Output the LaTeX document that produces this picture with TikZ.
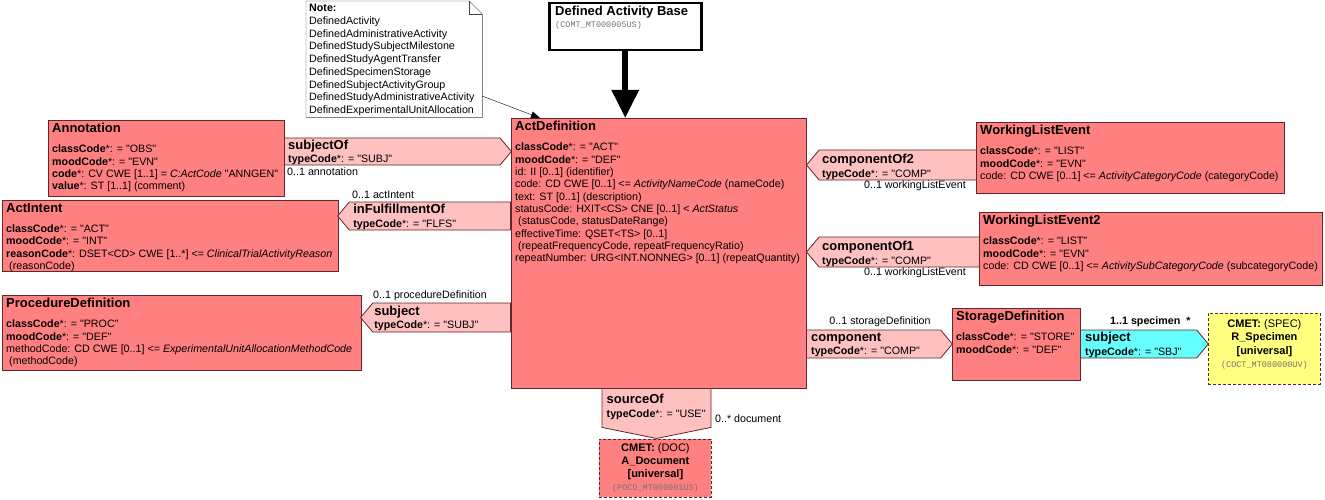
\documentclass[tikz,border=0pt]{standalone}
\usepackage{fontspec}
\setmainfont{Liberation Sans}[Ligatures=TeXOff]
\setmonofont{Liberation Mono}
\usetikzlibrary{positioning,shapes.symbols,arrows.meta}

\definecolor{clsred}{RGB}{255,128,128}
\definecolor{assocpink}{RGB}{255,192,192}
\definecolor{subjcyan}{RGB}{102,255,255}
\definecolor{cmetyellow}{RGB}{255,255,128}
\definecolor{edgebrown}{RGB}{96,40,40}

\newcommand{\clsname}[1]{{\fontsize{13}{15}\selectfont\bfseries #1}}
\newcommand{\idcode}[1]{{\fontsize{8.5}{11}\selectfont\ttfamily\color{black!55}#1}}

\begin{document}
\begin{tikzpicture}[
		x=1pt, y=-1pt,
		clsbox/.style={draw=edgebrown, fill=clsred, line width=0.8pt, anchor=north west, inner sep=0pt},
		cmetbox/.style={draw=edgebrown, line width=0.8pt, dash pattern=on 3pt off 2pt, anchor=north west, inner sep=0pt},
		clstext/.style={anchor=north west, align=left, inner xsep=4pt, inner ysep=3pt, font=\fontsize{10.7}{12.3}\selectfont},
		cmettext/.style={anchor=north, align=center, inner sep=0pt, font=\fontsize{11}{13.5}\selectfont},
		assoc/.style={signal, signal pointer angle=100, draw=edgebrown, fill=assocpink, line width=0.8pt, inner sep=0pt},
		assoctext/.style={anchor=west, align=left, inner sep=0pt, font=\fontsize{10.7}{12}\selectfont},
		multlabel/.style={inner sep=0pt, font=\fontsize{10.7}{12}\selectfont}
	]

	\useasboundingbox (0,0) rectangle (1325,500);

	\node[minimum width=176, minimum height=116, anchor=north west, inner sep=0pt] (note) at (306,1) {};
	\filldraw[fill=white, draw=black!75] (note.north west) -- ([xshift=-13pt]note.north east) -- ([yshift=-13pt]note.north east) -- (note.south east) -- (note.south west) -- cycle;
	\draw[black!75] ([xshift=-13pt]note.north east) -- ([xshift=-13pt,yshift=-13pt]note.north east) -- ([yshift=-13pt]note.north east);
	\node[clstext, font=\fontsize{10.7}{12.75}\selectfont, inner xsep=3pt, inner ysep=3pt] (note-t) at (note.north west) {\textbf{Note:}\\
		DefinedActivity\\
		DefinedAdministrativeActivity\\
		DefinedStudySubjectMilestone\\
		DefinedStudyAgentTransfer\\
		DefinedSpecimenStorage\\
		DefinedSubjectActivityGroup\\
		DefinedStudyAdministrativeActivity\\
		DefinedExperimentalUnitAllocation};

	\node[draw, line width=2.5pt, fill=white, anchor=north west, minimum width=152, minimum height=47, inner sep=0pt] (base) at (548,2) {};
	\node[clstext] (base-t) at ([xshift=3pt,yshift=-1pt]base.north west) {\clsname{Defined Activity Base}\\ \idcode{(COMT\_MT000005US)}};

	\node[clsbox, minimum width=295, minimum height=270] (act) at (511,118) {};
	\node[clstext] (act-t) at (act.north west) {\clsname{ActDefinition}\\[8pt]
		\textbf{classCode}*: = "ACT"\\
		\textbf{moodCode}*: = "DEF"\\
		id: II [0..1] (identifier)\\
		code: CD CWE [0..1] <= \textit{ActivityNameCode} (nameCode)\\
		text: ST [0..1] (description)\\
		statusCode: HXIT<CS> CNE [0..1] < \textit{ActStatus}\\
		\hspace*{3pt}(statusCode, statusDateRange)\\
		effectiveTime: QSET<TS> [0..1]\\
		\hspace*{3pt}(repeatFrequencyCode, repeatFrequencyRatio)\\
		repeatNumber: URG<INT.NONNEG> [0..1] (repeatQuantity)};

	\node[clsbox, minimum width=236, minimum height=76] (annot) at (48,120) {};
	\node[clstext] (annot-t) at (annot.north west) {\clsname{Annotation}\\[8pt]
		\textbf{classCode}*: = "OBS"\\
		\textbf{moodCode}*: = "EVN"\\
		\textbf{code}*: CV CWE [1..1] = \textit{C:ActCode} "ANNGEN"\\
		\textbf{value}*: ST [1..1] (comment)};

	\node[clsbox, minimum width=336, minimum height=71] (actint) at (2,200) {};
	\node[clstext] (actint-t) at (actint.north west) {\clsname{ActIntent}\\[8pt]
		\textbf{classCode}*: = "ACT"\\
		\textbf{moodCode}*: = "INT"\\
		\textbf{reasonCode}*: DSET<CD> CWE [1..*] <= \textit{ClinicalTrialActivityReason}\\
		\hspace*{3pt}(reasonCode)};

	\node[clsbox, minimum width=359, minimum height=75] (procdef) at (2,295) {};
	\node[clstext] (procdef-t) at (procdef.north west) {\clsname{ProcedureDefinition}\\[8pt]
		\textbf{classCode}*: = "PROC"\\
		\textbf{moodCode}*: = "DEF"\\
		methodCode: CD CWE [0..1] <= \textit{ExperimentalUnitAllocationMethodCode}\\
		\hspace*{3pt}(methodCode)};

	\node[clsbox, minimum width=308, minimum height=71] (wle) at (976,122) {};
	\node[clstext] (wle-t) at (wle.north west) {\clsname{WorkingListEvent}\\[8pt]
		\textbf{classCode}*: = "LIST"\\
		\textbf{moodCode}*: = "EVN"\\
		code: CD CWE [0..1] <= \textit{ActivityCategoryCode} (categoryCode)};

	\node[clsbox, minimum width=343, minimum height=73] (wle2) at (979,212) {};
	\node[clstext] (wle2-t) at (wle2.north west) {\clsname{WorkingListEvent2}\\[8pt]
		\textbf{classCode}*: = "LIST"\\
		\textbf{moodCode}*: = "EVN"\\
		code: CD CWE [0..1] <= \textit{ActivitySubCategoryCode} (subcategoryCode)};

	\node[clsbox, minimum width=128, minimum height=72] (storage) at (952,308) {};
	\node[clstext] (storage-t) at (storage.north west) {\clsname{StorageDefinition}\\[8pt]
		\textbf{classCode}*: = "STORE"\\
		\textbf{moodCode}*: = "DEF"};

	\node[cmetbox, fill=cmetyellow, minimum width=112, minimum height=71] (spec) at (1208,313) {};
	\node[cmettext] (spec-t) at ([yshift=-6pt]spec.north) {\textbf{CMET:} (SPEC)\\ \textbf{R\_Specimen}\\ \textbf{[universal]}\\ \idcode{(COCT\_MT080000UV)}};

	\node[cmetbox, fill=clsred, minimum width=112, minimum height=58] (doc) at (599,439) {};
	\node[cmettext, font=\fontsize{11}{13.2}\selectfont] (doc-t) at ([yshift=-4pt]doc.north) {\textbf{CMET:} (DOC)\\ \textbf{A\_Document}\\ \textbf{[universal]}\\ \idcode{(POCD\_MT000001US)}};

	\node[assoc, signal to=east, minimum width=227, minimum height=27, anchor=west] (subjOf) at (284,151.5) {};
	\node[assoctext] (subjOf-t) at ([xshift=4pt,yshift=-1pt]subjOf.west) {\clsname{subjectOf}\\[1.5pt] \textbf{typeCode}*: = "SUBJ"};
	\node[multlabel, anchor=north west] (subjOf-m) at (287,168) {0..1 annotation};

	\node[assoc, signal to=west, minimum width=173, minimum height=28, anchor=east] (inFul) at (511,216) {};
	\node[assoctext] (inFul-t) at ([xshift=16pt,yshift=-1pt]inFul.west) {\clsname{inFulfillmentOf}\\[1.5pt] \textbf{typeCode}*: = "FLFS"};
	\node[multlabel, anchor=south west] (inFul-m) at (352,199) {0..1 actIntent};

	\node[assoc, signal to=west, minimum width=150, minimum height=29, anchor=east] (procSubj) at (511,317.5) {};
	\node[assoctext] (procSubj-t) at ([xshift=14pt,yshift=-1pt]procSubj.west) {\clsname{subject}\\[1.5pt] \textbf{typeCode}*: = "SUBJ"};
	\node[multlabel, anchor=south west] (procSubj-m) at (373,301) {0..1 procedureDefinition};

	\node[assoc, signal to=west, minimum width=170, minimum height=30, anchor=west] (compOf2) at (806,165) {};
	\node[assoctext] (compOf2-t) at ([xshift=16pt,yshift=-2pt]compOf2.west) {\clsname{componentOf2}\\[1.5pt] \textbf{typeCode}*: = "COMP"};
	\node[multlabel, anchor=north east] (compOf2-m) at (966,181) {0..1 workingListEvent};

	\node[assoc, signal to=west, minimum width=173, minimum height=30, anchor=west] (compOf1) at (806,252) {};
	\node[assoctext] (compOf1-t) at ([xshift=16pt,yshift=-2pt]compOf1.west) {\clsname{componentOf1}\\[1.5pt] \textbf{typeCode}*: = "COMP"};
	\node[multlabel, anchor=north east] (compOf1-m) at (966,268) {0..1 workingListEvent};

	\node[assoc, signal to=east, minimum width=146, minimum height=28, anchor=west] (comp) at (806,344) {};
	\node[assoctext] (comp-t) at ([xshift=5pt,yshift=-1pt]comp.west) {\clsname{component}\\[1.5pt] \textbf{typeCode}*: = "COMP"};
	\node[multlabel, anchor=south] (comp-m) at (880,327) {0..1 storageDefinition};

	\node[assoc, fill=subjcyan, signal to=east, minimum width=128, minimum height=28, anchor=west] (specSubj) at (1080,344) {};
	\node[assoctext] (specSubj-t) at ([xshift=5pt,yshift=-1pt]specSubj.west) {\clsname{subject}\\[1.5pt] \textbf{typeCode}*: = "SBJ"};
	\node[multlabel, anchor=south west] (specSubj-m) at (1110,327) {\textbf{1..1 specimen}\hspace{6pt}\textbf{*}};

	\node[assoc, signal to=south, signal pointer angle=157, minimum width=109, minimum height=39, anchor=north] (srcOf) at (656.5,388) {};
	\node[assoctext, anchor=north west] (srcOf-t) at ([xshift=-50pt,yshift=-6pt]srcOf.north) {\clsname{sourceOf}\\[1.5pt] \textbf{typeCode}*: = "USE"};
	\node[multlabel, anchor=west] (srcOf-m) at (715,419) {0..* document};

	\draw[line width=6pt, -{Triangle[width=26pt,length=28pt]}] (base.south) -- (base.south |- act.north);

	\coordinate (note-end) at (482,96);
	\draw[-{Triangle[width=7pt,length=9pt]}] (note-end) -- ([xshift=29pt]act.north west);

\end{tikzpicture}
\end{document}
